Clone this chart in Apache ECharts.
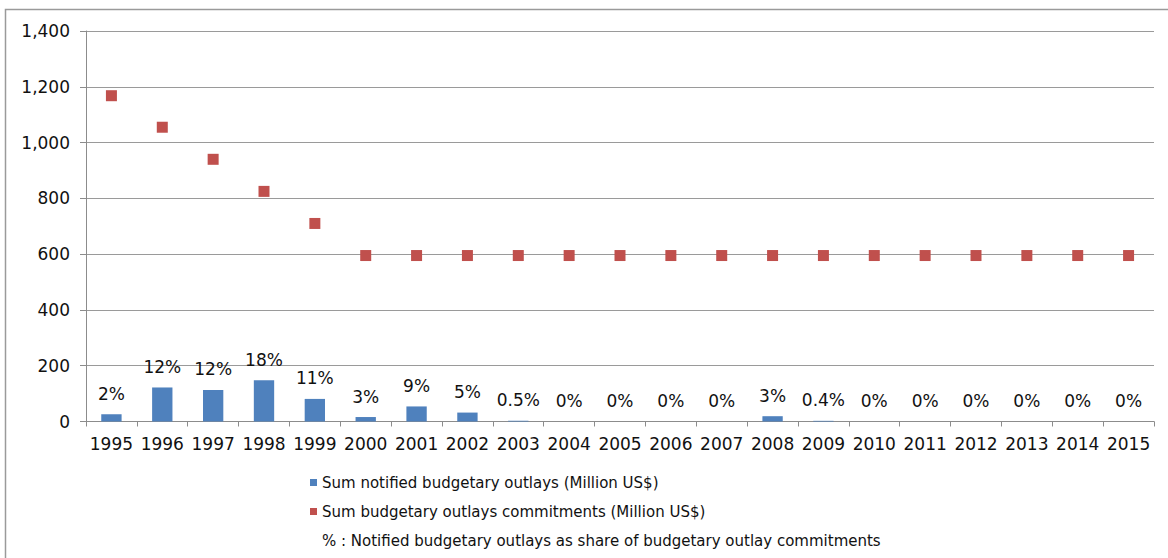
<!DOCTYPE html>
<html>
<head>
<meta charset="utf-8">
<script src="https://cdn.jsdelivr.net/npm/echarts@6/dist/echarts.min.js"></script>
<style>
html,body{margin:0;padding:0;background:#fff;font-family:'DejaVu Sans';}
#chart{width:1168px;height:558px;}
</style>
</head>
<body>
<div id="chart"></div>
<script>
const years = ['1995','1996','1997','1998','1999','2000','2001','2002','2003','2004','2005','2006','2007','2008','2009','2010','2011','2012','2013','2014','2015'];
const notifiedOutlays = [26,122,113,148,81,16,54,32,3,0,0,0,0,19,2.4,0,0,0,0,0,0];
const outlayCommitments = [1168,1055,940,825,710,595,595,595,595,595,595,595,595,595,595,595,595,595,595,595,595];
const shareLabels = ['2%','12%','12%','18%','11%','3%','9%','5%','0.5%','0%','0%','0%','0%','3%','0.4%','0%','0%','0%','0%','0%','0%'];
const yTicks = {min:0, max:1400, interval:200};
const seriesNames = [
  'Sum notified budgetary outlays (Million US$)',
  'Sum budgetary outlays commitments (Million US$)',
  '% : Notified budgetary outlays as share of budgetary outlay commitments'
];

const FONT = 'DejaVu Sans';
const chart = echarts.init(document.getElementById('chart'), null, {renderer:'svg'});
chart.setOption({
  animation:false,
  backgroundColor:'#fff',
  textStyle:{fontFamily:FONT},
  graphic:[{
    type:'rect', silent:true,
    shape:{x:5.5, y:9.5, width:1300, height:700},
    style:{fill:'none', stroke:'#9a9a9a', lineWidth:1.5}
  }],
  grid:{left:86, right:14, top:31, bottom:136.5, containLabel:false},
  legend:{
    orient:'vertical', left:310, top:474, padding:0,
    itemWidth:7, itemHeight:7, itemGap:12,
    textStyle:{fontFamily:FONT, fontSize:15, color:'#111', lineHeight:17},
    data:[
      {name:seriesNames[0], icon:'rect'},
      {name:seriesNames[1], icon:'rect'},
      {name:seriesNames[2], icon:'none'}
    ]
  },
  xAxis:{
    type:'category', data:years, boundaryGap:true,
    axisLine:{lineStyle:{color:'#8c8c8c', width:1}},
    axisTick:{show:true, length:5, alignWithLabel:false, lineStyle:{color:'#8c8c8c'}},
    axisLabel:{fontFamily:FONT, fontSize:17, color:'#111', margin:14, interval:0},
    splitLine:{show:false}
  },
  yAxis:{
    type:'value', min:yTicks.min, max:yTicks.max, interval:yTicks.interval,
    axisLine:{show:true, lineStyle:{color:'#8c8c8c', width:1}},
    axisTick:{show:true, length:6, lineStyle:{color:'#8c8c8c'}},
    axisLabel:{fontFamily:FONT, fontSize:17, color:'#111', margin:16,
      formatter:v => v.toLocaleString('en-US')},
    splitLine:{show:true, lineStyle:{color:'#9a9a9a', width:1}}
  },
  series:[
    {
      name:seriesNames[0], type:'bar', data:notifiedOutlays, barWidth:'40%',
      itemStyle:{color:'#4F81BD'},
      label:{show:true, position:'top', distance:12, fontFamily:FONT, fontSize:17, color:'#111',
        formatter:p => shareLabels[p.dataIndex]}
    },
    {
      name:seriesNames[1], type:'scatter', data:outlayCommitments,
      symbol:'rect', symbolSize:11, itemStyle:{color:'#C0504D', opacity:1}
    },
    {
      name:seriesNames[2], type:'scatter', data:[], symbol:'none', itemStyle:{color:'#ffffff'}
    }
  ]
});
</script>
</body>
</html>
